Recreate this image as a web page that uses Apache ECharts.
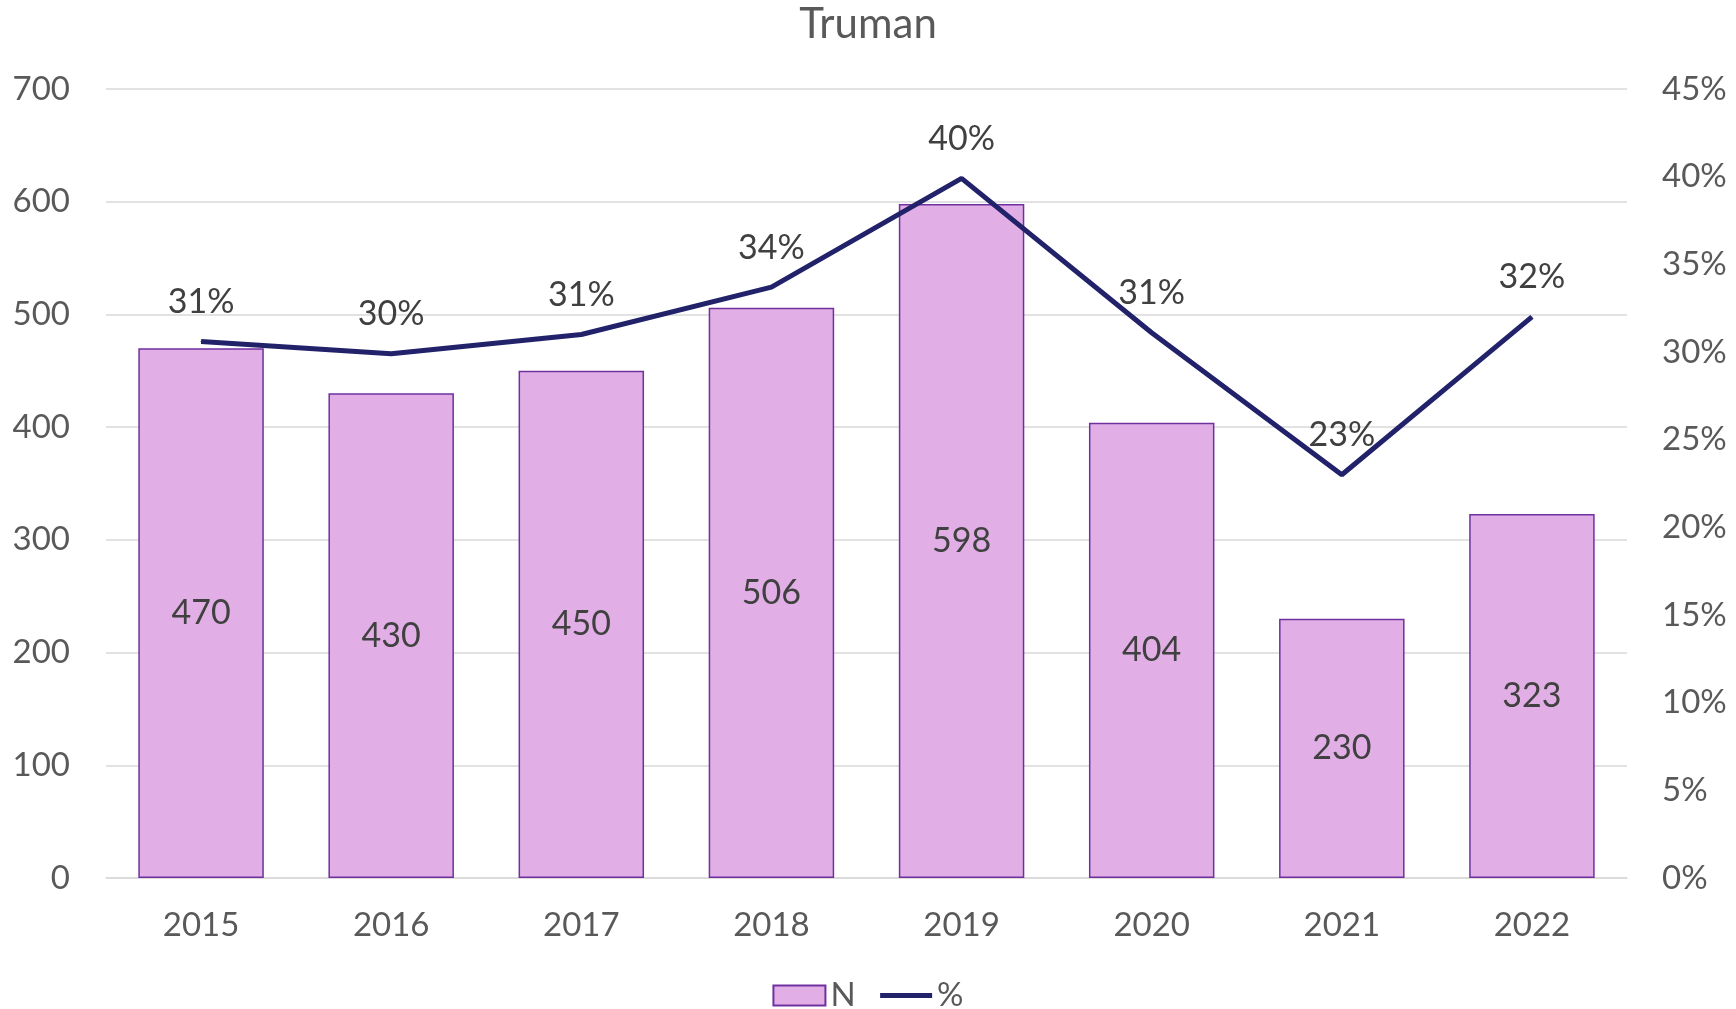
<!DOCTYPE html>
<html>
<head>
<meta charset="utf-8">
<title>Truman</title>
<script src="https://cdn.jsdelivr.net/npm/echarts@6/dist/echarts.min.js"></script>
<style>
  html, body { margin: 0; padding: 0; background: #fff; }
  #chart { width: 1736px; height: 1009px; }
</style>
</head>
<body>
<div id="chart"></div>
<script>
// data
const years = ['2015', '2016', '2017', '2018', '2019', '2020', '2021', '2022']
const countN = [470, 430, 450, 506, 598, 404, 230, 323]
const pct = [0.306, 0.299, 0.31, 0.337, 0.399, 0.311, 0.23, 0.32]

const font = 'Lato, "Open Sans", sans-serif'
const tickColor = '#595959'
const labelColor = '#404040'
const gridColor = '#d9d9d9'
const lineColor = '#22226b'

const chart = echarts.init(document.getElementById('chart'))

const option = {
  backgroundColor: '#fff',
  animation: false,
  textStyle: { fontFamily: font },
  title: {
    text: 'Truman',
    left: 'center',
    top: 3,
    padding: 0,
    textStyle: { fontFamily: font, fontSize: 42, fontWeight: 'normal', color: tickColor }
  },
  legend: {
    top: 979,
    left: 'center',
    padding: 0,
    itemWidth: 52,
    itemHeight: 20,
    itemGap: 22,
    textStyle: { fontFamily: font, fontSize: 33, color: tickColor },
    data: [
      { name: 'N', icon: 'rect' },
      { name: '%', itemStyle: { opacity: 0 }, lineStyle: { width: 5, color: lineColor } }
    ]
  },
  grid: { left: 106, right: 109, top: 89, bottom: 131 },
  xAxis: {
    type: 'category',
    data: years,
    axisTick: { show: false },
    axisLine: { lineStyle: { color: gridColor, width: 1.5 } },
    axisLabel: { margin: 31, fontFamily: font, fontSize: 33, color: tickColor }
  },
  yAxis: [
    {
      type: 'value',
      min: 0,
      max: 700,
      interval: 100,
      axisLine: { show: false },
      axisTick: { show: false },
      splitLine: { lineStyle: { color: gridColor, width: 1.5 } },
      axisLabel: { margin: 36, fontFamily: font, fontSize: 33, color: tickColor }
    },
    {
      type: 'value',
      min: 0,
      max: 0.45,
      interval: 0.05,
      axisLine: { show: false },
      axisTick: { show: false },
      splitLine: { show: false },
      axisLabel: {
        margin: 35,
        fontFamily: font,
        fontSize: 33,
        color: tickColor,
        formatter: v => Math.round(v * 100) + '%'
      }
    }
  ],
  series: [
    {
      name: 'N',
      type: 'bar',
      data: countN,
      barCategoryGap: '34%',
      itemStyle: { color: '#e1afe5', borderColor: '#7030a0', borderWidth: 1.5 },
      label: {
        show: true,
        position: 'inside',
        fontFamily: font,
        fontSize: 34,
        color: labelColor
      }
    },
    {
      name: '%',
      type: 'line',
      yAxisIndex: 1,
      data: pct,
      symbol: 'circle',
      symbolSize: 1,
      itemStyle: { color: lineColor },
      lineStyle: { color: lineColor, width: 5 },
      label: {
        show: true,
        position: 'top',
        distance: 22,
        fontFamily: font,
        fontSize: 34,
        color: labelColor,
        formatter: p => Math.round(p.value * 100) + '%'
      },
      z: 5
    }
  ]
}

chart.setOption(option)
</script>
</body>
</html>
